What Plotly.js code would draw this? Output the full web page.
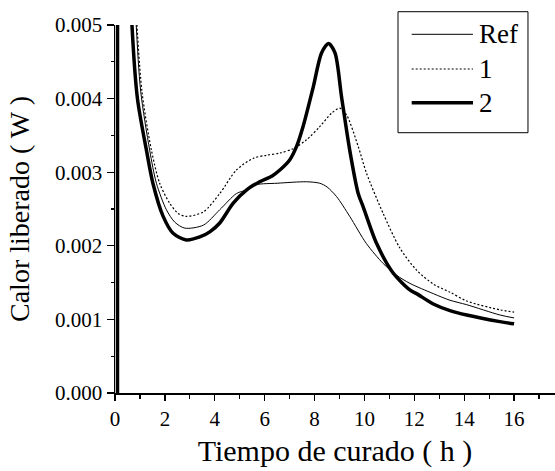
<!DOCTYPE html>
<html>
<head>
<meta charset="utf-8">
<script src="https://cdn.plot.ly/plotly-3.0.1.min.js"></script>
<style>html,body{margin:0;padding:0;background:#fff;}#chart{width:555px;height:471px;}</style>
</head>
<body>
<div id="chart"></div>
<script>
// Tiempo de curado (h) and Calor liberado (W)
var tRef = [0.1, 0.12, 0.3, 0.6, 0.85, 1.03, 1.39, 1.66, 2.06, 2.4, 2.8, 3.54, 4.2, 4.87, 5.28, 5.67, 6.5, 7.68, 8.21, 8.5, 8.88, 9.41, 10.08, 10.75, 11.29, 11.82, 12.76, 13.43, 14.1, 15.43, 16.0];
var qRef = [0, 0.06, 0.014, 0.0068, 0.005, 0.0041, 0.0033, 0.00285, 0.00249, 0.00232, 0.00224, 0.00228, 0.00249, 0.00271, 0.00276, 0.00283, 0.00285, 0.00287, 0.00285, 0.0028, 0.00267, 0.0024, 0.00203, 0.00176, 0.0016, 0.00149, 0.00135, 0.00126, 0.0012, 0.00106, 0.00102];

var t1 = [0.12, 0.14, 0.35, 0.6, 0.8, 1.08, 1.46, 1.79, 2.19, 2.53, 2.86, 3.54, 4.2, 4.87, 5.55, 6.07, 6.61, 7.15, 7.68, 8.21, 8.68, 9.01, 9.28, 9.75, 10.08, 10.75, 11.42, 12.09, 12.76, 13.43, 14.1, 15.43, 16.0];
var q1 = [0, 0.06, 0.015, 0.0075, 0.0055, 0.0041, 0.0033, 0.00285, 0.00258, 0.00244, 0.0024, 0.00246, 0.00271, 0.00303, 0.00319, 0.00323, 0.00326, 0.00332, 0.00344, 0.00362, 0.0038, 0.00387, 0.00378, 0.00335, 0.00299, 0.00244, 0.00197, 0.00167, 0.00148, 0.00137, 0.00125, 0.00113, 0.0011];

var t2 = [0.1, 0.12, 0.3, 0.5, 0.68, 0.9, 1.26, 1.52, 1.93, 2.33, 2.86, 3.4, 3.8, 4.2, 4.74, 5.28, 5.8, 6.3, 6.61, 7.01, 7.28, 7.54, 7.95, 8.28, 8.56, 8.82, 9.08, 9.41, 9.75, 9.95, 10.49, 11.15, 11.82, 12.09, 12.76, 13.43, 14.1, 15.43, 16.0];
var q2 = [0, 0.06, 0.012, 0.0068, 0.005, 0.004, 0.0033, 0.00285, 0.0024, 0.00217, 0.00208, 0.00212, 0.00219, 0.00231, 0.00258, 0.00276, 0.00287, 0.00295, 0.00303, 0.00317, 0.00335, 0.00362, 0.00416, 0.00462, 0.00475, 0.00462, 0.00403, 0.0033, 0.00271, 0.00253, 0.00203, 0.00163, 0.0014, 0.00135, 0.00121, 0.00112, 0.00106, 0.00097, 0.00094];

var seriesNames = ['Ref', '1', '2'];
var xTicks = [0, 2, 4, 6, 8, 10, 12, 14, 16];
var yTicks = [0, 0.001, 0.002, 0.003, 0.004, 0.005];
var yTickText = ['0.000', '0.001', '0.002', '0.003', '0.004', '0.005'];

var FONT = "'Liberation Serif', 'Times New Roman', serif";

var lineStyles = [
  {color: '#000', width: 1},
  {color: '#000', width: 1.2, dash: '2px,2px'},
  {color: '#000', width: 3.5}
];

var traces = [
  {x: tRef, y: qRef, name: seriesNames[0], mode: 'lines', showlegend: false,
   line: Object.assign({shape: 'spline', smoothing: 0.8}, lineStyles[0])},
  {x: t1, y: q1, name: seriesNames[1], mode: 'lines', showlegend: false,
   line: Object.assign({shape: 'spline', smoothing: 0.8}, lineStyles[1])},
  {x: t2, y: q2, name: seriesNames[2], mode: 'lines', showlegend: false,
   line: Object.assign({shape: 'spline', smoothing: 0.8}, lineStyles[2])}
];

// legend drawn in paper coordinates (box, sample lines, labels)
var legX0 = 0.6432, legX1 = 0.9386, legY0 = 0.7073, legY1 = 1.0361;
var sampleX0 = 0.6743, sampleX1 = 0.8136, labelX = 0.8227;
var rowY = [0.9747, 0.8804, 0.7889];

var shapes = [{type: 'rect', xref: 'paper', yref: 'paper', x0: legX0, x1: legX1, y0: legY0, y1: legY1,
               line: {color: '#000', width: 1}, fillcolor: 'rgba(0,0,0,0)'}];
var annotations = [];
seriesNames.forEach(function (nm, i) {
  shapes.push({type: 'line', xref: 'paper', yref: 'paper', x0: sampleX0, x1: sampleX1, y0: rowY[i], y1: rowY[i],
               line: lineStyles[i]});
  annotations.push({xref: 'paper', yref: 'paper', x: labelX, y: rowY[i], xanchor: 'left', yanchor: 'middle',
                    text: nm, showarrow: false, font: {family: FONT, size: 27, color: '#000'}});
});

var layout = {
  width: 555, height: 471,
  margin: {l: 115, r: 0, t: 25, b: 78},
  paper_bgcolor: '#fff', plot_bgcolor: '#fff',
  font: {family: FONT, color: '#000'},
  showlegend: false,
  shapes: shapes,
  annotations: annotations,
  xaxis: {
    range: [0, 17.64], tickvals: xTicks, ticktext: xTicks.map(String),
    ticks: 'outside', ticklen: 6, tickwidth: 1.3, tickcolor: '#000',
    minor: {dtick: 1, ticks: 'outside', ticklen: 4, tickwidth: 1.3, tickcolor: '#000'},
    showline: true, linecolor: '#000', linewidth: 1.5,
    showgrid: false, zeroline: false,
    tickfont: {family: FONT, size: 21, color: '#000'},
    title: {text: 'Tiempo de curado ( h )', font: {family: FONT, size: 30, color: '#000'}, standoff: 10}
  },
  yaxis: {
    range: [0, 0.005], tickvals: yTicks, ticktext: yTickText,
    ticks: 'outside', ticklen: 7, tickwidth: 1.3, tickcolor: '#000',
    minor: {dtick: 0.0005, ticks: 'outside', ticklen: 3, tickwidth: 1.3, tickcolor: '#000'},
    showline: true, linecolor: '#000', linewidth: 1.5,
    showgrid: false, zeroline: false,
    tickfont: {family: FONT, size: 21, color: '#000'},
    title: {text: 'Calor liberado ( W )', font: {family: FONT, size: 28, color: '#000'}, standoff: 17}
  }
};

Plotly.newPlot('chart', traces, layout, {displayModeBar: false, staticPlot: true});
</script>
</body>
</html>
